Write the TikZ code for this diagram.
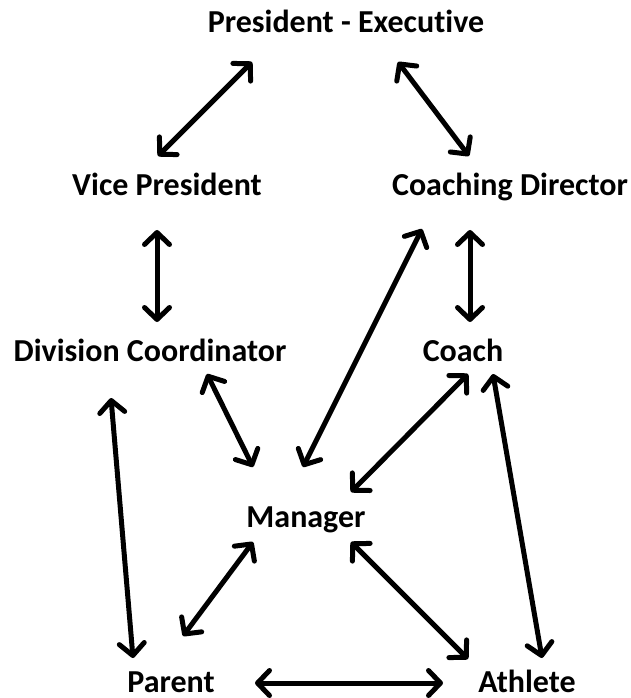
\documentclass[tikz,border=0pt]{standalone}
\usepackage{fontspec}
\setmainfont[Ligatures=NoCommon]{Carlito}
\usetikzlibrary{arrows.meta}

\begin{document}
\begin{tikzpicture}[x=1pt,y=-1pt,
        role/.style={font=\fontsize{32}{38}\selectfont\bfseries, inner sep=0pt, anchor=base},
        link/.style={line width=5pt, line cap=round,
            {Straight Barb[length=12pt,width=25pt,round]}-{Straight Barb[length=12pt,width=25pt,round]}}]
    \useasboundingbox (0,0) rectangle (631,698);
    % people
    \node[role] (pres)    at (346,33)  {President - Executive};
    \node[role] (vp)      at (167,195) {Vice President};
    \node[role] (cd)      at (510,195) {Coaching Director};
    \node[role] (dc)      at (150,361) {Division Coordinator};
    \node[role] (coach)   at (463,361) {Coach};
    \node[role] (mgr)     at (306,527) {Manager};
    \node[role] (parent)  at (171,692) {Parent};
    \node[role] (athlete) at (527,692) {Athlete};
    % links
    \draw[link] ([shift={(-94,29)}]pres.base)   -- ([shift={(-9,-39)}]vp.base);
    \draw[link] ([shift={(52,29)}]pres.base)    -- ([shift={(-41,-39)}]cd.base);
    \draw[link] ([shift={(-10,35)}]vp.base)     -- ([shift={(7,-39)}]dc.base);
    \draw[link] ([shift={(-40,35)}]cd.base)     -- ([shift={(7,-39)}]coach.base);
    \draw[link] ([shift={(-88,34)}]cd.base)     -- ([shift={(-3,-60)}]mgr.base);
    \draw[link] ([shift={(57,13)}]dc.base)      -- ([shift={(-53,-60)}]mgr.base);
    \draw[link] ([shift={(5,13)}]coach.base)    -- ([shift={(45,-35)}]mgr.base);
    \draw[link] ([shift={(-39,37)}]dc.base)     -- ([shift={(-38,-34)}]parent.base);
    \draw[link] ([shift={(30,13)}]coach.base)   -- ([shift={(15,-34)}]athlete.base);
    \draw[link] ([shift={(-53,15)}]mgr.base)    -- ([shift={(12,-56)}]parent.base);
    \draw[link] ([shift={(45,15)}]mgr.base)     -- ([shift={(-59,-33)}]athlete.base);
    \draw[link] ([shift={(84,-9)}]parent.base)  -- ([shift={(-84,-9)}]athlete.base);
\end{tikzpicture}
\end{document}
